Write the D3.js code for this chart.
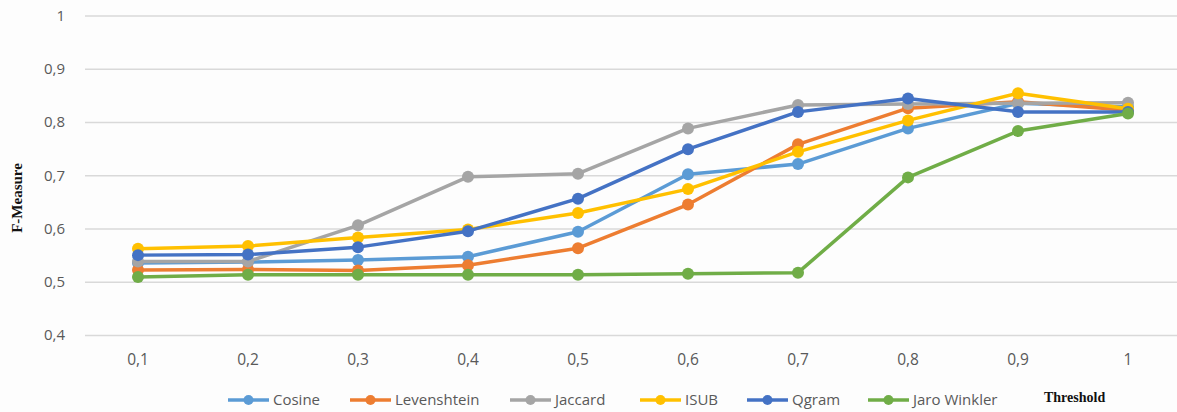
<!DOCTYPE html>
<html>
<head>
<meta charset="utf-8">
<script src="https://cdn.jsdelivr.net/npm/d3@7"></script>
<style>
  html, body { margin: 0; padding: 0; background: #fdfdfd; }
  svg { display: block; }
</style>
</head>
<body>
<svg id="chart" width="1177" height="412"></svg>
<script>
// Thresholds on the category axis
const thresholds = ["0,1", "0,2", "0,3", "0,4", "0,5", "0,6", "0,7", "0,8", "0,9", "1"];

// F-Measure per similarity metric
const cosine      = [0.535, 0.537, 0.541, 0.547, 0.594, 0.702, 0.721, 0.788, 0.835, 0.828];
const levenshtein = [0.522, 0.523, 0.521, 0.531, 0.563, 0.645, 0.758, 0.826, 0.838, 0.822];
const jaccard     = [0.538, 0.538, 0.606, 0.697, 0.703, 0.788, 0.832, 0.834, 0.835, 0.836];
const isub        = [0.562, 0.567, 0.583, 0.598, 0.629, 0.674, 0.744, 0.803, 0.854, 0.825];
const qgram       = [0.550, 0.551, 0.565, 0.595, 0.656, 0.749, 0.819, 0.844, 0.819, 0.819];
const jaroWinkler = [0.509, 0.513, 0.513, 0.513, 0.513, 0.515, 0.517, 0.696, 0.783, 0.816];

const seriesNames  = ["Cosine", "Levenshtein", "Jaccard", "ISUB", "Qgram", "Jaro Winkler"];
const seriesValues = [cosine, levenshtein, jaccard, isub, qgram, jaroWinkler];
const seriesColors = ["#5B9BD5", "#ED7D31", "#A5A5A5", "#FFC000", "#4472C4", "#70AD47"];

const yTicks = [0.4, 0.5, 0.6, 0.7, 0.8, 0.9, 1];

const svg = d3.select("#chart");
const labelFont = "'Open Sans', Calibri, sans-serif";

const x = d3.scaleBand().domain(thresholds).range([83, 1183]).padding(0);
const y = d3.scaleLinear().domain([0.4, 1]).range([335, 15.5]);

// Horizontal gridlines
const yAxis = d3.axisLeft(y)
  .tickValues(yTicks)
  .tickSize(-(1183 - 85))
  .tickPadding(20)
  .tickFormat(d => d === 1 ? "1" : d3.format(".1f")(d).replace(".", ","));

const gy = svg.append("g").attr("transform", "translate(85,0)").call(yAxis);
gy.select(".domain").remove();
gy.selectAll(".tick line").attr("stroke", "#d9d9d9").attr("stroke-width", 1.5);
gy.selectAll(".tick text")
  .attr("fill", "#595959")
  .style("font-family", labelFont)
  .style("font-size", "15px");

// Category labels
const xAxis = d3.axisBottom(x).tickSize(0).tickPadding(19);
const gx = svg.append("g").attr("transform", "translate(0,335)").call(xAxis);
gx.select(".domain").remove();
gx.selectAll(".tick text")
  .attr("fill", "#595959")
  .style("font-family", labelFont)
  .style("font-size", "15.5px");

// Lines and markers
const line = d3.line()
  .x((d, i) => x(thresholds[i]) + x.bandwidth() / 2)
  .y(d => y(d));

seriesValues.forEach((vals, k) => {
  const g = svg.append("g");
  g.append("path")
    .datum(vals)
    .attr("d", line)
    .attr("fill", "none")
    .attr("stroke", seriesColors[k])
    .attr("stroke-width", 3.5)
    .attr("stroke-linejoin", "round");
  g.selectAll("circle")
    .data(vals)
    .join("circle")
    .attr("cx", (d, i) => x(thresholds[i]) + x.bandwidth() / 2)
    .attr("cy", d => y(d))
    .attr("r", 6)
    .attr("fill", seriesColors[k]);
});

// Y-axis title
svg.append("text")
  .attr("transform", "translate(22,198) rotate(-90)")
  .attr("text-anchor", "middle")
  .style("font-family", "'Liberation Serif', 'DejaVu Serif', serif")
  .style("font-weight", "bold")
  .style("font-size", "15px")
  .attr("fill", "#111")
  .text("F-Measure");

// Legend
const legendX = [228, 350, 510, 640, 747, 868];
const legend = svg.append("g");
seriesNames.forEach((name, k) => {
  const lg = legend.append("g").attr("transform", `translate(${legendX[k]},400)`);
  lg.append("line")
    .attr("x1", 0).attr("x2", 41)
    .attr("stroke", seriesColors[k]).attr("stroke-width", 3.5);
  lg.append("circle").attr("cx", 20.5).attr("r", 5).attr("fill", seriesColors[k]);
  lg.append("text")
    .attr("x", 45).attr("dy", "0.35em")
    .attr("fill", "#595959")
    .style("font-family", labelFont)
    .style("font-size", "15px")
    .text(name);
});

// Category axis title
svg.append("text")
  .attr("x", 1044).attr("y", 397).attr("dy", "0.35em")
  .style("font-family", "'Liberation Serif', 'DejaVu Serif', serif")
  .style("font-weight", "bold")
  .style("font-size", "14px")
  .attr("fill", "#111")
  .text("Threshold");
</script>
</body>
</html>
